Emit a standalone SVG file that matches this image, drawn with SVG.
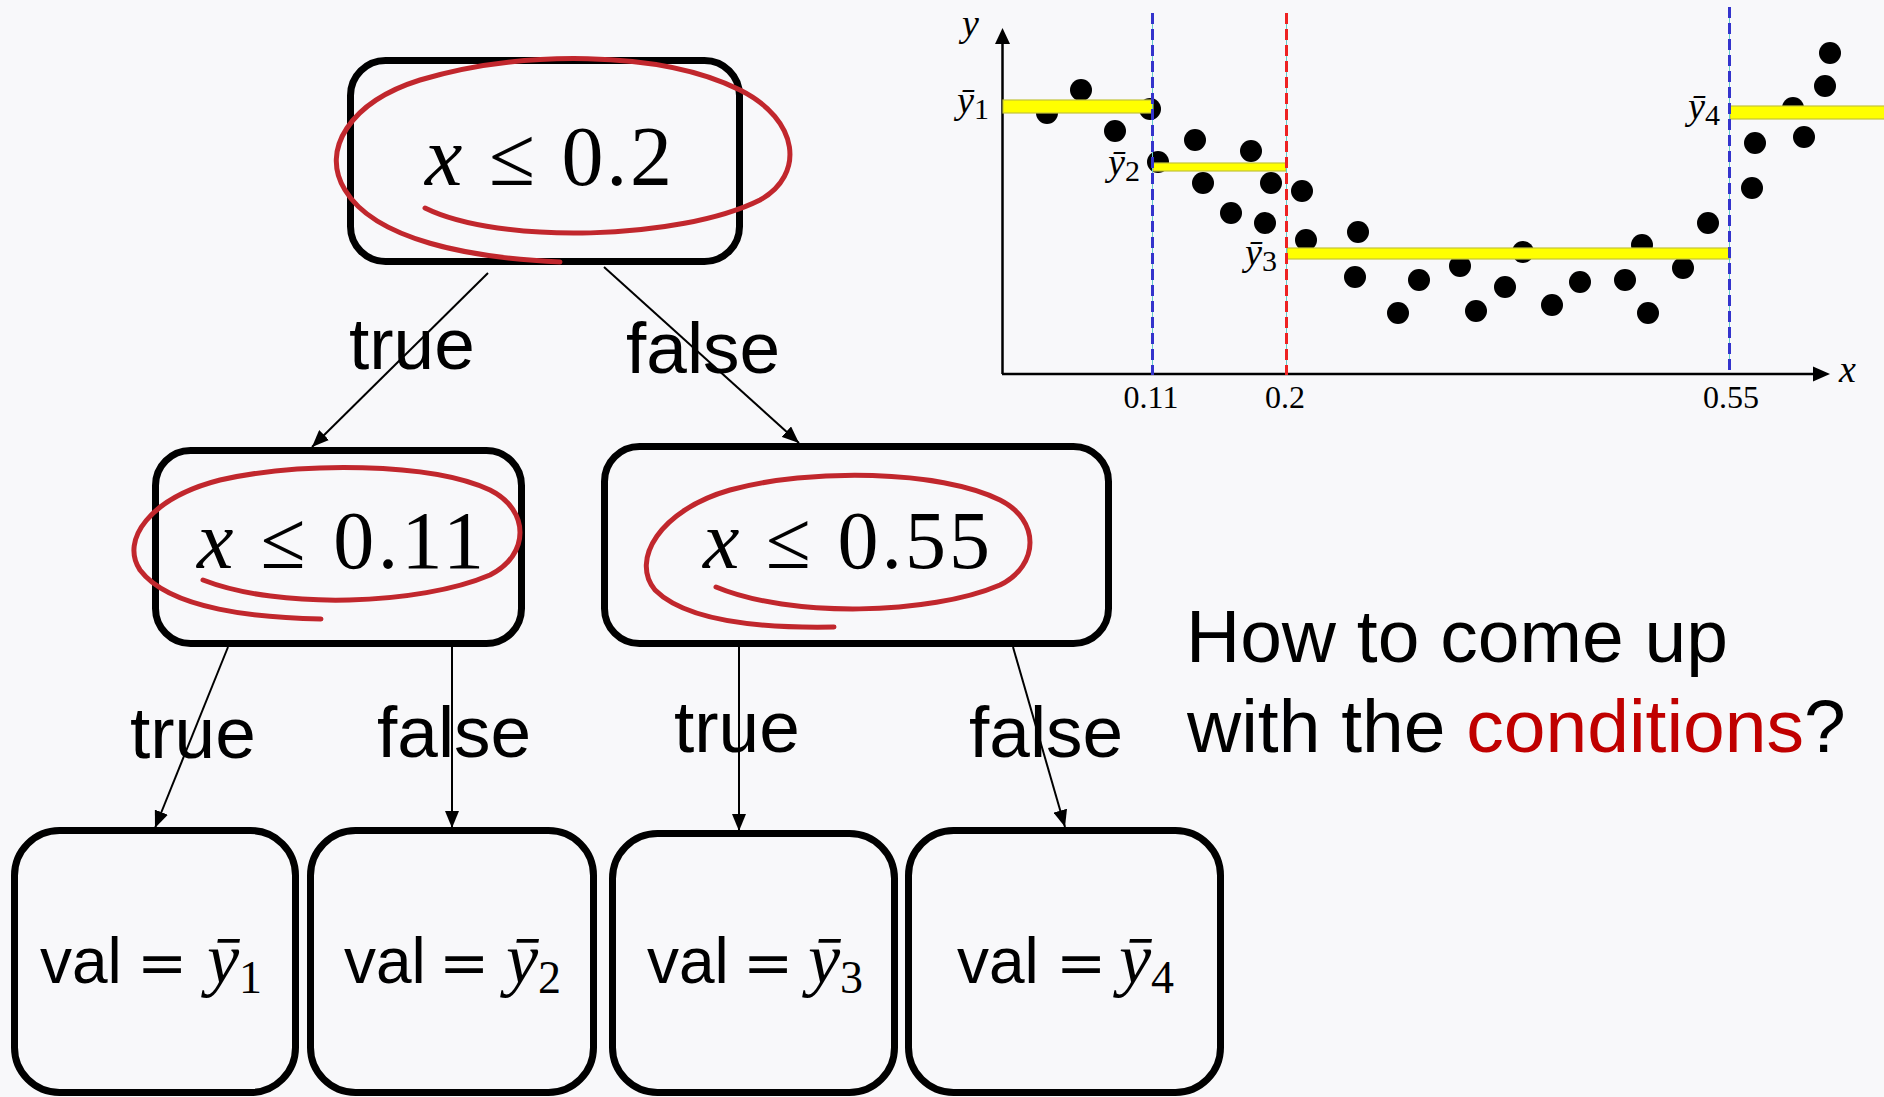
<svg xmlns="http://www.w3.org/2000/svg" width="1884" height="1097" viewBox="0 0 1884 1097">
<style>
.box{fill:none;stroke:#000;stroke-width:7}
.loop{fill:none;stroke:#c1272d;stroke-width:5;stroke-linecap:round;stroke-linejoin:round}
.cond{font-family:"Liberation Serif","DejaVu Serif",serif;fill:#000}
.lbl{font-family:"Liberation Sans",Arial,sans-serif;font-size:73px;fill:#000}
.val{font-family:"Liberation Sans",Arial,sans-serif;font-size:64px;fill:#000}
.eq{font-family:"DejaVu Serif",serif;font-size:60px;fill:#000}
.ybar{font-family:"Liberation Serif",serif;font-style:italic;font-size:72px;fill:#000}
.sub{font-family:"Liberation Serif",serif;font-style:normal;font-size:46px}
.edge{stroke:#000;stroke-width:2;fill:none}
.dot{fill:#000}
.mean{fill:#ffff00;stroke:#c4c43a;stroke-width:1.2}
.cl{font-family:"Liberation Serif",serif;font-size:32px;fill:#000}
.cli{font-family:"Liberation Serif",serif;font-style:italic;font-size:38px;fill:#000}
.q{font-family:"Liberation Sans",Arial,sans-serif;font-size:75px;fill:#000}
</style>
<defs>
<marker id="arr" markerUnits="userSpaceOnUse" markerWidth="18" markerHeight="14" refX="17" refY="7" orient="auto">
<path d="M0,0 L17,7 L0,14 z" fill="#000"/>
</marker>
</defs>
<rect x="0" y="0" width="1884" height="1097" fill="#f8f8fa"/>

<g id="connectors">
<line class="edge" x1="488" y1="273" x2="312" y2="447" marker-end="url(#arr)"/>
<line class="edge" x1="604" y1="267" x2="799" y2="443" marker-end="url(#arr)"/>
<line class="edge" x1="228" y1="647" x2="155" y2="828" marker-end="url(#arr)"/>
<line class="edge" x1="452" y1="647" x2="452" y2="828" marker-end="url(#arr)"/>
<line class="edge" x1="739" y1="647" x2="739" y2="831" marker-end="url(#arr)"/>
<line class="edge" x1="1013" y1="647" x2="1065" y2="827" marker-end="url(#arr)"/>
<text class="lbl" x="349" y="369">true</text>
<text class="lbl" x="626" y="373">false</text>
<text class="lbl" x="130" y="758">true</text>
<text class="lbl" x="377" y="757">false</text>
<text class="lbl" x="674" y="752">true</text>
<text class="lbl" x="969" y="757">false</text>
</g>

<g id="node-root">
<rect class="box" x="350.5" y="60.5" width="389" height="201" rx="35"/>
<text class="cond" x="425" y="185" font-size="84" textLength="247" lengthAdjust="spacing"><tspan font-style="italic">x</tspan> ≤ 0.2</text>
<path class="loop" d="M425,208 C500,245 680,240 760,200 C805,175 800,120 740,90 C660,50 520,50 420,80 C350,102 320,150 345,190 C375,240 470,258 560,262"/>
</g>

<g id="node-left">
<rect class="box" x="155.5" y="450.5" width="366" height="193" rx="35"/>
<text class="cond" x="197" y="568" font-size="82" textLength="287" lengthAdjust="spacing"><tspan font-style="italic">x</tspan> ≤ 0.11</text>
<path class="loop" d="M203,580 C280,610 420,605 490,575 C530,555 530,510 490,490 C430,462 300,462 220,480 C150,498 120,540 140,570 C170,610 260,618 321,619"/>
</g>

<g id="node-right">
<rect class="box" x="604.5" y="446.5" width="504" height="197" rx="35"/>
<text class="cond" x="703" y="568" font-size="82" textLength="287" lengthAdjust="spacing"><tspan font-style="italic">x</tspan> ≤ 0.55</text>
<path class="loop" d="M716,587 C790,618 930,615 1000,585 C1040,565 1040,520 1000,500 C940,470 810,468 730,490 C660,510 630,560 655,590 C690,625 780,628 834,627"/>
</g>

<g id="leaf-1">
<rect class="box" x="14.5" y="830.5" width="281" height="262" rx="45"/>
<text class="val" x="40" y="983">val</text>
<text class="eq" x="137" y="983">=</text>
<text class="ybar" x="207" y="983">ȳ<tspan class="sub" dy="10">1</tspan></text>
</g>
<g id="leaf-2">
<rect class="box" x="310.5" y="830.5" width="283" height="262" rx="45"/>
<text class="val" x="344" y="983">val</text>
<text class="eq" x="439" y="983">=</text>
<text class="ybar" x="506" y="983">ȳ<tspan class="sub" dy="10">2</tspan></text>
</g>
<g id="leaf-3">
<rect class="box" x="612.5" y="833.5" width="282" height="259" rx="45"/>
<text class="val" x="647" y="983">val</text>
<text class="eq" x="743" y="983">=</text>
<text class="ybar" x="808" y="983">ȳ<tspan class="sub" dy="10">3</tspan></text>
</g>
<g id="leaf-4">
<rect class="box" x="908.5" y="830.5" width="312" height="262" rx="45"/>
<text class="val" x="957" y="983">val</text>
<text class="eq" x="1056" y="983">=</text>
<text class="ybar" x="1119" y="983">ȳ<tspan class="sub" dy="10">4</tspan></text>
</g>

<g id="chart">
<line x1="1002.5" y1="374" x2="1002.5" y2="40" stroke="#000" stroke-width="2.5"/>
<path d="M1002.5,28 L1010,44 L995,44 z" fill="#000"/>
<line x1="1002" y1="374" x2="1816" y2="374" stroke="#000" stroke-width="2.5"/>
<path d="M1830,374 L1813,366.5 L1813,381.5 z" fill="#000"/>
<text class="cli" x="962" y="36">y</text>
<text class="cli" x="1839" y="382">x</text>
<text class="cl" x="1151" y="408" text-anchor="middle">0.11</text>
<text class="cl" x="1285" y="408" text-anchor="middle">0.2</text>
<text class="cl" x="1731" y="408" text-anchor="middle">0.55</text>
<g id="points">
<circle class="dot" cx="1047" cy="113" r="11"/>
<circle class="dot" cx="1081" cy="90" r="11"/>
<circle class="dot" cx="1115" cy="131" r="11"/>
<circle class="dot" cx="1150" cy="109" r="11"/>
<circle class="dot" cx="1158" cy="162" r="11"/>
<circle class="dot" cx="1195" cy="140" r="11"/>
<circle class="dot" cx="1203" cy="183" r="11"/>
<circle class="dot" cx="1231" cy="213" r="11"/>
<circle class="dot" cx="1251" cy="151" r="11"/>
<circle class="dot" cx="1265" cy="223" r="11"/>
<circle class="dot" cx="1271" cy="183" r="11"/>
<circle class="dot" cx="1302" cy="191" r="11"/>
<circle class="dot" cx="1306" cy="240" r="11"/>
<circle class="dot" cx="1358" cy="232" r="11"/>
<circle class="dot" cx="1355" cy="277" r="11"/>
<circle class="dot" cx="1398" cy="313" r="11"/>
<circle class="dot" cx="1419" cy="280" r="11"/>
<circle class="dot" cx="1460" cy="266" r="11"/>
<circle class="dot" cx="1476" cy="311" r="11"/>
<circle class="dot" cx="1505" cy="287" r="11"/>
<circle class="dot" cx="1523" cy="252" r="11"/>
<circle class="dot" cx="1552" cy="305" r="11"/>
<circle class="dot" cx="1580" cy="282" r="11"/>
<circle class="dot" cx="1625" cy="280" r="11"/>
<circle class="dot" cx="1642" cy="245" r="11"/>
<circle class="dot" cx="1648" cy="313" r="11"/>
<circle class="dot" cx="1683" cy="268" r="11"/>
<circle class="dot" cx="1708" cy="223" r="11"/>
<circle class="dot" cx="1752" cy="188" r="11"/>
<circle class="dot" cx="1755" cy="143" r="11"/>
<circle class="dot" cx="1793" cy="108" r="11"/>
<circle class="dot" cx="1804" cy="137" r="11"/>
<circle class="dot" cx="1825" cy="86" r="11"/>
<circle class="dot" cx="1830" cy="53" r="11"/>
</g>
<rect class="mean" x="1003" y="100" width="150" height="13"/>
<rect class="mean" x="1153" y="163" width="133" height="8"/>
<rect class="mean" x="1287" y="248" width="443" height="11"/>
<rect class="mean" x="1730" y="106" width="160" height="13"/>
<text class="cli" x="957" y="113" font-size="42">ȳ<tspan font-style="normal" font-size="30" dy="6">1</tspan></text>
<text class="cli" x="1108" y="175" font-size="42">ȳ<tspan font-style="normal" font-size="30" dy="6">2</tspan></text>
<text class="cli" x="1245" y="265" font-size="42">ȳ<tspan font-style="normal" font-size="30" dy="6">3</tspan></text>
<text class="cli" x="1688" y="119" font-size="42">ȳ<tspan font-style="normal" font-size="30" dy="6">4</tspan></text>
<g id="splits">
<line x1="1152.5" y1="13" x2="1152.5" y2="375" stroke="#66cccc" stroke-width="1"/>
<line x1="1152.5" y1="13" x2="1152.5" y2="375" stroke="#3434cc" stroke-width="3" stroke-dasharray="11 5"/>
<line x1="1286.5" y1="13" x2="1286.5" y2="375" stroke="#66cccc" stroke-width="1"/>
<line x1="1286.5" y1="13" x2="1286.5" y2="375" stroke="#ee2222" stroke-width="3" stroke-dasharray="11 5"/>
<line x1="1729.5" y1="7" x2="1729.5" y2="370" stroke="#66cccc" stroke-width="1"/>
<line x1="1729.5" y1="7" x2="1729.5" y2="370" stroke="#3434cc" stroke-width="3" stroke-dasharray="11 5"/>
</g>
</g>

<g id="question">
<text class="q" x="1186" y="662">How to come up</text>
<text class="q" x="1187" y="752">with the <tspan fill="#c00000">conditions</tspan>?</text>
</g>
</svg>
